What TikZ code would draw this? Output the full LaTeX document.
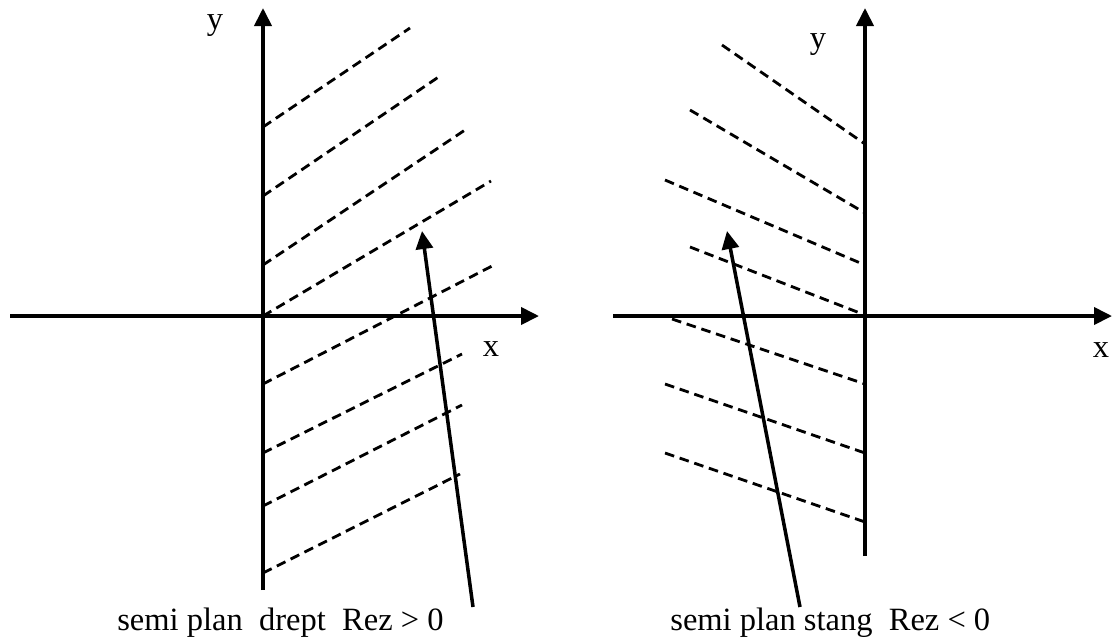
\documentclass[tikz,border=0pt]{standalone}
\usepackage{fontspec}
\setmainfont{Liberation Serif}
\usetikzlibrary{arrows.meta}

\begin{document}
\begin{tikzpicture}[
    x=0.02cm, y=-0.02cm,
    >={Triangle[length=0.36cm,width=0.34cm]},
    axis/.style={line width=2.2pt},
    hatch/.style={line width=1.6pt, dash pattern=on 5.5pt off 3.3pt},
    pointer/.style={line width=2pt},
    lbl/.style={font=\fontsize{18.5}{20}\selectfont, inner sep=0pt, anchor=base},
  ]
  \useasboundingbox (0,0) rectangle (1112,640);
  % left half plane
  \coordinate (lO) at (263,316);
  \coordinate (lxa) at (10,316);
  \coordinate (lxb) at (539,316);
  \coordinate (lya) at (263,590);
  \coordinate (lyb) at (263,8);
  \foreach \ya/\xb/\yb in {127/410/28, 196/440/76, 265/468/128, 316/491/181,
                           384/494/265, 453/462/354, 506/462/405, 573/460/474}
    \draw[hatch] (263,\ya) -- (\xb,\yb);
  \draw[->,axis] (lxa) -- (lxb);
  \draw[->,axis] (lya) -- (lyb);
  \node[lbl] (ly) at (215,29) {y};
  \node[lbl] (lx) at (491,356) {x};
  \node[lbl, anchor=base west] (ltxt) at (117,630) {semi plan\ \ drept\ \ Rez > 0};
  \coordinate (lpa) at (473,607);
  \coordinate (lpb) at (422,231);
  \draw[->,pointer] (lpa) -- (lpb);
  % right half plane
  \coordinate (rO) at (865,316);
  \coordinate (rxa) at (613,316);
  \coordinate (rxb) at (1112,316);
  \coordinate (rya) at (865,556);
  \coordinate (ryb) at (865,8);
  \foreach \xa/\ya/\yb in {722/45/144, 690/110/213, 665/180/265, 690/247/315,
                           672/319/384, 665/384/453, 665/453/522}
    \draw[hatch] (\xa,\ya) -- (865,\yb);
  \draw[->,axis] (rxa) -- (rxb);
  \draw[->,axis] (rya) -- (ryb);
  \node[lbl] (ry) at (818,48) {y};
  \node[lbl] (rx) at (1101,357) {x};
  \node[lbl, anchor=base west] (rtxt) at (670,630) {semi plan stang\ \ Rez < 0};
  \coordinate (rpa) at (800,607);
  \coordinate (rpb) at (727,231);
  \draw[->,pointer] (rpa) -- (rpb);
\end{tikzpicture}
\end{document}
